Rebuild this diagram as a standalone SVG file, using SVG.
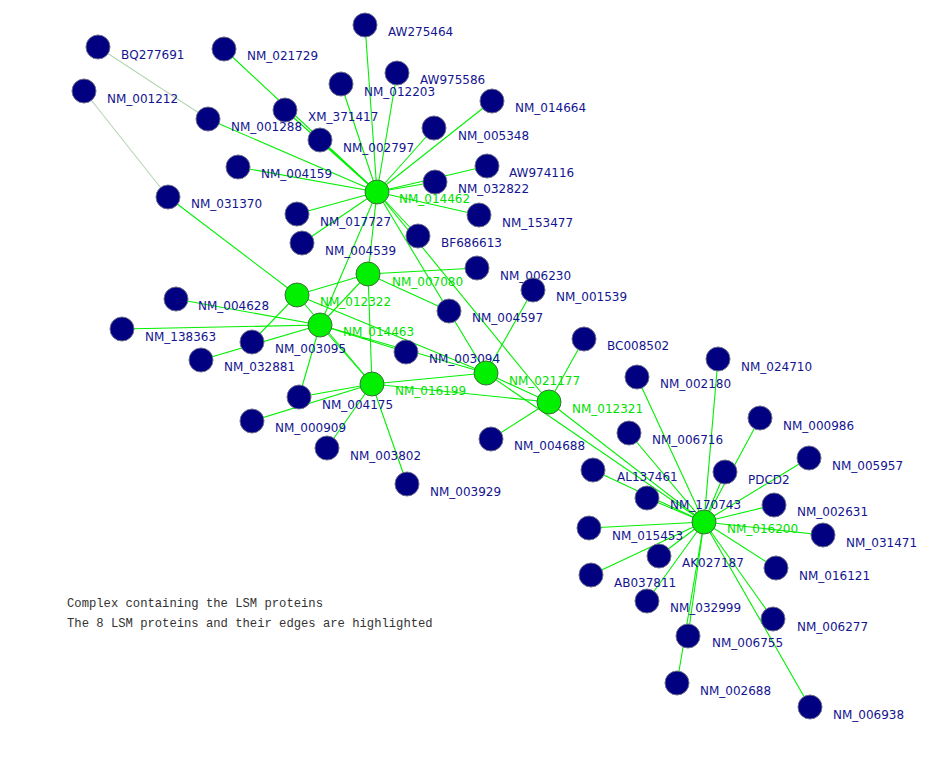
<svg xmlns="http://www.w3.org/2000/svg" width="944" height="764" viewBox="0 0 944 764">
<style>
.e{stroke:#00f000;stroke-width:1.1;fill:none}
.f{stroke:#b4d6b4;stroke-width:1.1;fill:none}
.b circle{fill:#000080;stroke:#6e6e8e;stroke-width:1}
.g circle{fill:#00f000;stroke:#3c6e3c;stroke-width:1}
text{font-family:"DejaVu Sans",sans-serif;font-size:12px}
.b text{fill:#141490}
.g text{fill:#00e000}
.cap{font-family:"Liberation Mono",monospace;font-size:12.2px;fill:#333}
</style>
<rect width="944" height="764" fill="#fff"/>
<g id="edges">
<line class="f" x1="98" y1="47" x2="208" y2="119"/>
<line class="f" x1="84" y1="91" x2="168" y2="197"/>
<line class="e" x1="168" y1="197" x2="297" y2="295"/>
<!-- hub NM_014462 -->
<line class="e" x1="377" y1="192" x2="224" y2="49"/>
<line class="e" x1="377" y1="192" x2="365" y2="25"/>
<line class="e" x1="377" y1="192" x2="341" y2="84"/>
<line class="e" x1="377" y1="192" x2="397" y2="73"/>
<line class="e" x1="377" y1="192" x2="285" y2="110"/>
<line class="e" x1="377" y1="192" x2="320" y2="140"/>
<line class="e" x1="377" y1="192" x2="208" y2="119"/>
<line class="e" x1="377" y1="192" x2="492" y2="101"/>
<line class="e" x1="377" y1="192" x2="434" y2="128"/>
<line class="e" x1="377" y1="192" x2="238" y2="167"/>
<line class="e" x1="377" y1="192" x2="487" y2="166"/>
<line class="e" x1="377" y1="192" x2="435" y2="182"/>
<line class="e" x1="377" y1="192" x2="479" y2="215"/>
<line class="e" x1="377" y1="192" x2="297" y2="214"/>
<line class="e" x1="377" y1="192" x2="302" y2="243"/>
<line class="e" x1="377" y1="192" x2="418" y2="236"/>
<line class="e" x1="377" y1="192" x2="368" y2="274"/>
<line class="e" x1="377" y1="192" x2="320" y2="325"/>
<line class="e" x1="377" y1="192" x2="486" y2="373"/>
<line class="e" x1="377" y1="192" x2="549" y2="402"/>
<!-- NM_012322 -->
<line class="e" x1="297" y1="295" x2="368" y2="274"/>
<line class="e" x1="297" y1="295" x2="252" y2="342"/>
<line class="e" x1="297" y1="295" x2="486" y2="373"/>
<line class="e" x1="297" y1="295" x2="372" y2="384"/>
<!-- NM_014463 -->
<line class="e" x1="320" y1="325" x2="176" y2="299"/>
<line class="e" x1="320" y1="325" x2="122" y2="329"/>
<line class="e" x1="320" y1="325" x2="201" y2="360"/>
<line class="e" x1="320" y1="325" x2="299" y2="397"/>
<line class="e" x1="320" y1="325" x2="372" y2="384"/>
<line class="e" x1="320" y1="325" x2="368" y2="274"/>
<line class="e" x1="320" y1="325" x2="406" y2="352"/>
<line class="e" x1="320" y1="325" x2="486" y2="373"/>
<!-- NM_007080 -->
<line class="e" x1="368" y1="274" x2="477" y2="268"/>
<line class="e" x1="368" y1="274" x2="449" y2="311"/>
<line class="e" x1="368" y1="274" x2="372" y2="384"/>
<!-- NM_016199 -->
<line class="e" x1="372" y1="384" x2="299" y2="397"/>
<line class="e" x1="372" y1="384" x2="252" y2="421"/>
<line class="e" x1="372" y1="384" x2="327" y2="448"/>
<line class="e" x1="372" y1="384" x2="407" y2="484"/>
<line class="e" x1="372" y1="384" x2="486" y2="373"/>
<line class="e" x1="372" y1="384" x2="549" y2="402"/>
<!-- NM_021177 -->
<line class="e" x1="486" y1="373" x2="533" y2="290"/>
<line class="e" x1="486" y1="373" x2="549" y2="402"/>
<line class="e" x1="486" y1="373" x2="704" y2="522"/>
<!-- NM_012321 -->
<line class="e" x1="549" y1="402" x2="491" y2="439"/>
<line class="e" x1="549" y1="402" x2="584" y2="339"/>
<line class="e" x1="549" y1="402" x2="704" y2="522"/>
<!-- NM_016200 -->
<line class="e" x1="704" y1="522" x2="637" y2="377"/>
<line class="e" x1="704" y1="522" x2="718" y2="359"/>
<line class="e" x1="704" y1="522" x2="629" y2="433"/>
<line class="e" x1="704" y1="522" x2="760" y2="418"/>
<line class="e" x1="704" y1="522" x2="725" y2="472"/>
<line class="e" x1="704" y1="522" x2="809" y2="458"/>
<line class="e" x1="704" y1="522" x2="593" y2="470"/>
<line class="e" x1="704" y1="522" x2="647" y2="498"/>
<line class="e" x1="704" y1="522" x2="774" y2="505"/>
<line class="e" x1="704" y1="522" x2="589" y2="528"/>
<line class="e" x1="704" y1="522" x2="823" y2="535"/>
<line class="e" x1="704" y1="522" x2="659" y2="556"/>
<line class="e" x1="704" y1="522" x2="776" y2="568"/>
<line class="e" x1="704" y1="522" x2="591" y2="575"/>
<line class="e" x1="704" y1="522" x2="647" y2="601"/>
<line class="e" x1="704" y1="522" x2="773" y2="619"/>
<line class="e" x1="704" y1="522" x2="688" y2="636"/>
<line class="e" x1="704" y1="522" x2="677" y2="683"/>
<line class="e" x1="704" y1="522" x2="810" y2="707"/>
</g>
<g id="BQ277691" class="b"><circle cx="98" cy="47" r="12"/><text x="121" y="59">BQ277691</text></g>
<g id="NM_001212" class="b"><circle cx="84" cy="91" r="12"/><text x="107" y="103">NM_001212</text></g>
<g id="NM_021729" class="b"><circle cx="224" cy="49" r="12"/><text x="247" y="60">NM_021729</text></g>
<g id="AW275464" class="b"><circle cx="365" cy="25" r="12"/><text x="388" y="36">AW275464</text></g>
<g id="NM_012203" class="b"><circle cx="341" cy="84" r="12"/><text x="364" y="96">NM_012203</text></g>
<g id="AW975586" class="b"><circle cx="397" cy="73" r="12"/><text x="420" y="84">AW975586</text></g>
<g id="XM_371417" class="b"><circle cx="285" cy="110" r="12"/><text x="308" y="121">XM_371417</text></g>
<g id="NM_001288" class="b"><circle cx="208" cy="119" r="12"/><text x="231" y="131">NM_001288</text></g>
<g id="NM_014664" class="b"><circle cx="492" cy="101" r="12"/><text x="515" y="112">NM_014664</text></g>
<g id="NM_005348" class="b"><circle cx="434" cy="128" r="12"/><text x="458" y="140">NM_005348</text></g>
<g id="NM_002797" class="b"><circle cx="320" cy="140" r="12"/><text x="343" y="152">NM_002797</text></g>
<g id="NM_004159" class="b"><circle cx="238" cy="167" r="12"/><text x="261" y="178">NM_004159</text></g>
<g id="AW974116" class="b"><circle cx="487" cy="166" r="12"/><text x="509" y="177">AW974116</text></g>
<g id="NM_032822" class="b"><circle cx="435" cy="182" r="12"/><text x="458" y="193">NM_032822</text></g>
<g id="NM_031370" class="b"><circle cx="168" cy="197" r="12"/><text x="191" y="208">NM_031370</text></g>
<g id="NM_017727" class="b"><circle cx="297" cy="214" r="12"/><text x="320" y="226">NM_017727</text></g>
<g id="NM_153477" class="b"><circle cx="479" cy="215" r="12"/><text x="502" y="227">NM_153477</text></g>
<g id="NM_004539" class="b"><circle cx="302" cy="243" r="12"/><text x="325" y="255">NM_004539</text></g>
<g id="BF686613" class="b"><circle cx="418" cy="236" r="12"/><text x="441" y="247">BF686613</text></g>
<g id="NM_006230" class="b"><circle cx="477" cy="268" r="12"/><text x="500" y="280">NM_006230</text></g>
<g id="NM_001539" class="b"><circle cx="533" cy="290" r="12"/><text x="556" y="301">NM_001539</text></g>
<g id="NM_004628" class="b"><circle cx="176" cy="299" r="12"/><text x="198" y="310">NM_004628</text></g>
<g id="NM_138363" class="b"><circle cx="122" cy="329" r="12"/><text x="145" y="341">NM_138363</text></g>
<g id="NM_003095" class="b"><circle cx="252" cy="342" r="12"/><text x="275" y="353">NM_003095</text></g>
<g id="NM_032881" class="b"><circle cx="201" cy="360" r="12"/><text x="224" y="371">NM_032881</text></g>
<g id="NM_004597" class="b"><circle cx="449" cy="311" r="12"/><text x="472" y="322">NM_004597</text></g>
<g id="NM_003094" class="b"><circle cx="406" cy="352" r="12"/><text x="429" y="363">NM_003094</text></g>
<g id="BC008502" class="b"><circle cx="584" cy="339" r="12"/><text x="607" y="350">BC008502</text></g>
<g id="NM_002180" class="b"><circle cx="637" cy="377" r="12"/><text x="660" y="388">NM_002180</text></g>
<g id="NM_024710" class="b"><circle cx="718" cy="359" r="12"/><text x="741" y="371">NM_024710</text></g>
<g id="NM_004175" class="b"><circle cx="299" cy="397" r="12"/><text x="322" y="409">NM_004175</text></g>
<g id="NM_000909" class="b"><circle cx="252" cy="421" r="12"/><text x="275" y="432">NM_000909</text></g>
<g id="NM_003802" class="b"><circle cx="327" cy="448" r="12"/><text x="350" y="460">NM_003802</text></g>
<g id="NM_003929" class="b"><circle cx="407" cy="484" r="12"/><text x="430" y="496">NM_003929</text></g>
<g id="NM_004688" class="b"><circle cx="491" cy="439" r="12"/><text x="514" y="450">NM_004688</text></g>
<g id="NM_006716" class="b"><circle cx="629" cy="433" r="12"/><text x="652" y="444">NM_006716</text></g>
<g id="NM_000986" class="b"><circle cx="760" cy="418" r="12"/><text x="783" y="430">NM_000986</text></g>
<g id="NM_005957" class="b"><circle cx="809" cy="458" r="12"/><text x="832" y="470">NM_005957</text></g>
<g id="AL137461" class="b"><circle cx="593" cy="470" r="12"/><text x="617" y="481">AL137461</text></g>
<g id="PDCD2" class="b"><circle cx="725" cy="472" r="12"/><text x="748" y="484">PDCD2</text></g>
<g id="NM_170743" class="b"><circle cx="647" cy="498" r="12"/><text x="670" y="509">NM_170743</text></g>
<g id="NM_002631" class="b"><circle cx="774" cy="505" r="12"/><text x="797" y="516">NM_002631</text></g>
<g id="NM_015453" class="b"><circle cx="589" cy="528" r="12"/><text x="612" y="540">NM_015453</text></g>
<g id="NM_031471" class="b"><circle cx="823" cy="535" r="12"/><text x="846" y="547">NM_031471</text></g>
<g id="AK027187" class="b"><circle cx="659" cy="556" r="12"/><text x="682" y="567">AK027187</text></g>
<g id="NM_016121" class="b"><circle cx="776" cy="568" r="12"/><text x="799" y="580">NM_016121</text></g>
<g id="AB037811" class="b"><circle cx="591" cy="575" r="12"/><text x="614" y="587">AB037811</text></g>
<g id="NM_032999" class="b"><circle cx="647" cy="601" r="12"/><text x="670" y="612">NM_032999</text></g>
<g id="NM_006277" class="b"><circle cx="773" cy="619" r="12"/><text x="797" y="631">NM_006277</text></g>
<g id="NM_006755" class="b"><circle cx="688" cy="636" r="12"/><text x="712" y="647">NM_006755</text></g>
<g id="NM_002688" class="b"><circle cx="677" cy="683" r="12"/><text x="700" y="695">NM_002688</text></g>
<g id="NM_006938" class="b"><circle cx="810" cy="707" r="12"/><text x="833" y="719">NM_006938</text></g>
<g id="NM_014462" class="g"><circle cx="377" cy="192" r="12"/><text x="399" y="203">NM_014462</text></g>
<g id="NM_007080" class="g"><circle cx="368" cy="274" r="12"/><text x="392" y="286">NM_007080</text></g>
<g id="NM_012322" class="g"><circle cx="297" cy="295" r="12"/><text x="320" y="306">NM_012322</text></g>
<g id="NM_014463" class="g"><circle cx="320" cy="325" r="12"/><text x="343" y="336">NM_014463</text></g>
<g id="NM_016199" class="g"><circle cx="372" cy="384" r="12"/><text x="395" y="395">NM_016199</text></g>
<g id="NM_021177" class="g"><circle cx="486" cy="373" r="12"/><text x="509" y="385">NM_021177</text></g>
<g id="NM_012321" class="g"><circle cx="549" cy="402" r="12"/><text x="572" y="413">NM_012321</text></g>
<g id="NM_016200" class="g"><circle cx="704" cy="522" r="12"/><text x="727" y="533">NM_016200</text></g>
<g id="caption">
<text class="cap" x="67" y="607">Complex containing the LSM proteins</text>
<text class="cap" x="67" y="627">The 8 LSM proteins and their edges are highlighted</text>
</g>
</svg>
